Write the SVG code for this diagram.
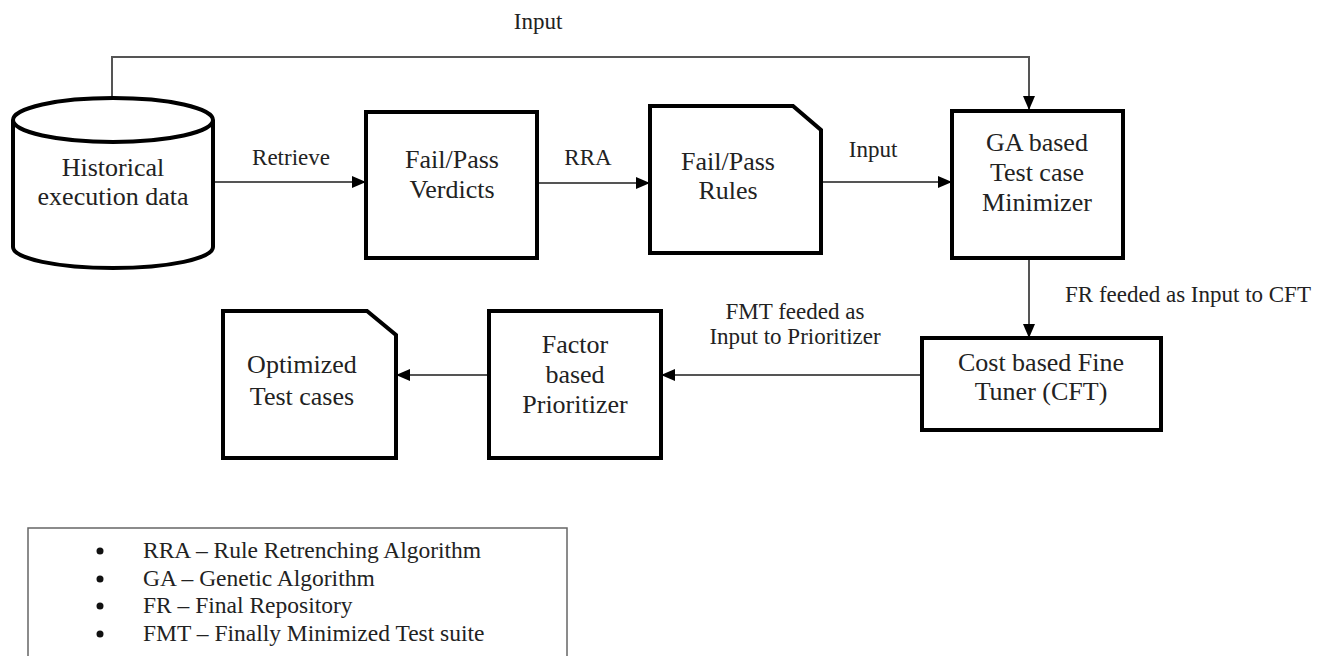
<svg xmlns="http://www.w3.org/2000/svg" width="1320" height="656" viewBox="0 0 1320 656" font-family="Liberation Serif">
<style>
.node{fill:#fff;stroke:#000;stroke-width:4;stroke-linejoin:miter}
.t{font-size:26px;text-anchor:middle;fill:#222}
.lbl{font-size:23px;text-anchor:middle;fill:#222}
.leg{font-size:23.5px;fill:#222}
.edge{fill:none;stroke:#555;stroke-width:2}
</style>
<defs>
<marker id="arr" viewBox="0 0 14 12" refX="14" refY="6" markerWidth="14" markerHeight="12" markerUnits="userSpaceOnUse" orient="auto">
<path d="M0,0 L14,6 L0,12 Z" fill="#000"/>
</marker>
</defs>
<rect width="1320" height="656" fill="#fff"/>
<g id="connectors" font-family="Liberation Serif">
<path class="edge" d="M112,98 L112,57 L1029,57 L1029,110" marker-end="url(#arr)"/>
<line class="edge" x1="215" y1="182" x2="366" y2="182" marker-end="url(#arr)"/>
<line class="edge" x1="537" y1="183" x2="650" y2="183" marker-end="url(#arr)"/>
<line class="edge" x1="821" y1="182" x2="952" y2="182" marker-end="url(#arr)"/>
<line class="edge" x1="1029" y1="258" x2="1029" y2="338" marker-end="url(#arr)"/>
<line class="edge" x1="922" y1="375" x2="661" y2="375" marker-end="url(#arr)"/>
<line class="edge" x1="489" y1="375" x2="396" y2="375" marker-end="url(#arr)"/>
<text class="lbl" x="538" y="29">Input</text>
<text class="lbl" x="291" y="165">Retrieve</text>
<text class="lbl" x="588" y="165">RRA</text>
<text class="lbl" x="873" y="157">Input</text>
<text class="lbl" x="1188" y="302">FR feeded as Input to CFT</text>
<text class="lbl" x="795" y="319">FMT feeded as</text>
<text class="lbl" x="795" y="344">Input to Prioritizer</text>
</g>
<g id="historical" font-family="Liberation Serif">
<path class="node" d="M13,120 L13,247 A100,21 0 0,0 213,247 L213,120"/>
<ellipse class="node" cx="113" cy="120" rx="100" ry="22"/>
<text class="t" x="113" y="176">Historical</text>
<text class="t" x="113" y="205">execution data</text>
</g>
<g id="verdicts" font-family="Liberation Serif">
<rect class="node" x="366" y="112" width="171" height="146"/>
<text class="t" x="452" y="168">Fail/Pass</text>
<text class="t" x="452" y="198">Verdicts</text>
</g>
<g id="rules" font-family="Liberation Serif">
<path class="node" d="M650,106 L793,106 L821,130 L821,253 L650,253 Z"/>
<text class="t" x="728" y="170">Fail/Pass</text>
<text class="t" x="728" y="199">Rules</text>
</g>
<g id="ga" font-family="Liberation Serif">
<rect class="node" x="952" y="111" width="171" height="147"/>
<text class="t" x="1037" y="151">GA based</text>
<text class="t" x="1037" y="181">Test case</text>
<text class="t" x="1037" y="211">Minimizer</text>
</g>
<g id="cft" font-family="Liberation Serif">
<rect class="node" x="922" y="338" width="239" height="92"/>
<text class="t" x="1041" y="371">Cost based Fine</text>
<text class="t" x="1041" y="400">Tuner (CFT)</text>
</g>
<g id="prioritizer" font-family="Liberation Serif">
<rect class="node" x="489" y="311" width="172" height="147"/>
<text class="t" x="575" y="353">Factor</text>
<text class="t" x="575" y="383">based</text>
<text class="t" x="575" y="413">Prioritizer</text>
</g>
<g id="optimized" font-family="Liberation Serif">
<path class="node" d="M223,311 L367,311 L396,335 L396,458 L223,458 Z"/>
<text class="t" x="302" y="373">Optimized</text>
<text class="t" x="302" y="405">Test cases</text>
</g>
<g id="legend" font-family="Liberation Serif">
<rect x="28" y="528" width="539" height="150" fill="#fff" stroke="#666" stroke-width="1.5"/>
<circle cx="100" cy="551" r="3.5" fill="#111"/>
<circle cx="100" cy="579" r="3.5" fill="#111"/>
<circle cx="100" cy="606" r="3.5" fill="#111"/>
<circle cx="100" cy="634" r="3.5" fill="#111"/>
<text class="leg" x="143" y="558">RRA – Rule Retrenching Algorithm</text>
<text class="leg" x="143" y="586">GA – Genetic Algorithm</text>
<text class="leg" x="143" y="613">FR – Final Repository</text>
<text class="leg" x="143" y="641">FMT – Finally Minimized Test suite</text>
</g>
</svg>
